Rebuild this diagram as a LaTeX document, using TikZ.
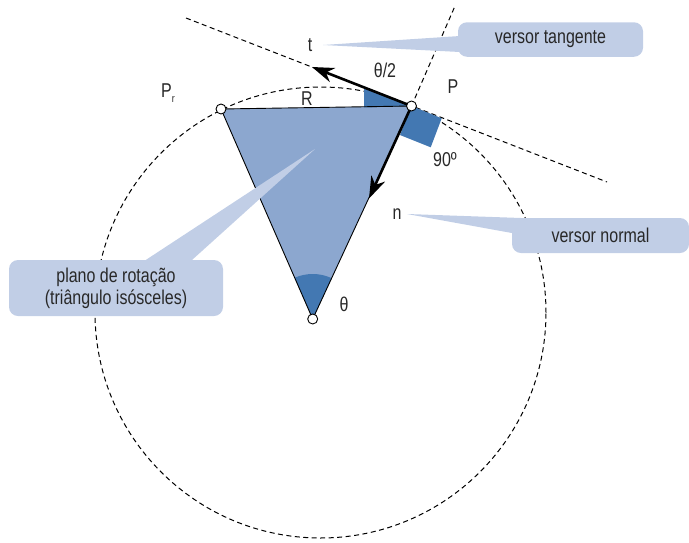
\documentclass[tikz,border=0pt]{standalone}
\usepackage{fontspec}
\setmainfont[FakeStretch=0.8]{Liberation Sans}
\usepackage{tikz}
\usetikzlibrary{calc, positioning, arrows.meta}
\usepackage{xcolor}
\definecolor{planeFill}{RGB}{140, 167, 207}
\definecolor{markFill}{RGB}{67, 120, 178}
\definecolor{calloutFill}{RGB}{193, 206, 230}
\definecolor{labelText}{RGB}{40, 40, 40}

\tikzset{
  dot/.style={circle, draw, fill=white, inner sep=0pt, minimum size=10pt, line width=0.9pt},
  guide/.style={dash pattern=on 5pt off 3.5pt, line width=1pt},
  vec/.style={-{Stealth[length=22pt, width=15pt, inset=7pt]}, line width=2.6pt},
  callout/.style={fill=calloutFill, rounded corners=9pt, text=labelText, align=center, inner sep=0pt},
  lbl/.style={text=labelText, inner sep=0pt}
}

\begin{document}
\begin{tikzpicture}[x=1pt, y=-1pt, font=\fontsize{20}{22}\selectfont]
  \useasboundingbox (0,0) rectangle (689,542);
  % points
  \coordinate (C) at (320.5,312.5);
  \coordinate (O) at (312.7,319);
  \coordinate (P) at (411.5,106);
  \coordinate (Pr) at (221,109);
  \coordinate (tA) at (186,18);
  \coordinate (tB) at (607,182);
  \coordinate (rA) at (455,6);
  \coordinate (tEnd) at (312,67);
  \coordinate (nEnd) at (369,198.5);

  % trajectory and guide lines
  \draw[guide] (C) circle (225.5pt);
  \draw[guide] (tA) -- (tB);
  \draw[guide] (P) -- (rA);

  % plane of rotation
  \fill[planeFill] (Pr) -- (P) -- (O) -- cycle;
  \begin{scope}
    \clip (Pr) -- (P) -- (O) -- cycle;
    \fill[markFill] (O) circle (45pt);
  \end{scope}
  \fill[markFill] (P) -- (364,87.5) -- (364,107.5) -- cycle;
  \fill[markFill] (P) -- (441.7,118.3) -- (430.7,147.3) -- (400,135) -- cycle;
  \draw[line width=0.9pt] (Pr) -- (P) -- (O) -- cycle;
  \draw[vec] (P) -- (tEnd);
  \draw[vec] (P) -- (nEnd);

  % callouts
  \node[callout, minimum width=185pt, minimum height=34.5pt] (boxT) at (550.5,39.5) {versor tangente};
  \coordinate (tipT) at (323,45);
  \fill[calloutFill] (tipT) -- ($(boxT.west)+(2,-3.5)$) -- ($(boxT.west)+(2,12.5)$) -- cycle;

  \node[callout, minimum width=177pt, minimum height=35pt] (boxN) at (600.5,235.5) {versor normal};
  \coordinate (tipN) at (407,214);
  \fill[calloutFill] (tipN) -- ($(boxN.north west)+(18,0.5)$) -- ($(boxN.west)+(0,-2.5)$) -- cycle;

  \node[callout, minimum width=214pt, minimum height=56pt] (boxR) at (116,288) {plano de rotação\\(triângulo isósceles)};
  \coordinate (tipR) at (315,149);
  \fill[calloutFill] (tipR) -- ($(boxR.north)+(27,2)$) -- ($(boxR.north)+(74,2)$) -- cycle;

  % labels
  \node[lbl] (tLbl) at (310,45) {t};
  \node[lbl] (halfLbl) at (385,70) {θ/2};
  \node[lbl] (PLbl) at (453,87) {P};
  \node[lbl] (PrLbl) at (168,93) {P{\fontsize{11}{11}\selectfont\raisebox{-5pt}{r}}};
  \node[lbl] (RLbl) at (307,99) {R};
  \node[lbl] (rightLbl) at (445,160) {90º};
  \node[lbl] (nLbl) at (397,214) {n};
  \node[lbl] (thetaLbl) at (344,304) {θ};

  % points on the trajectory
  \node[dot] (PrDot) at (Pr) {};
  \node[dot] (PDot) at (P) {};
  \node[dot] (ODot) at (O) {};
\end{tikzpicture}
\end{document}
